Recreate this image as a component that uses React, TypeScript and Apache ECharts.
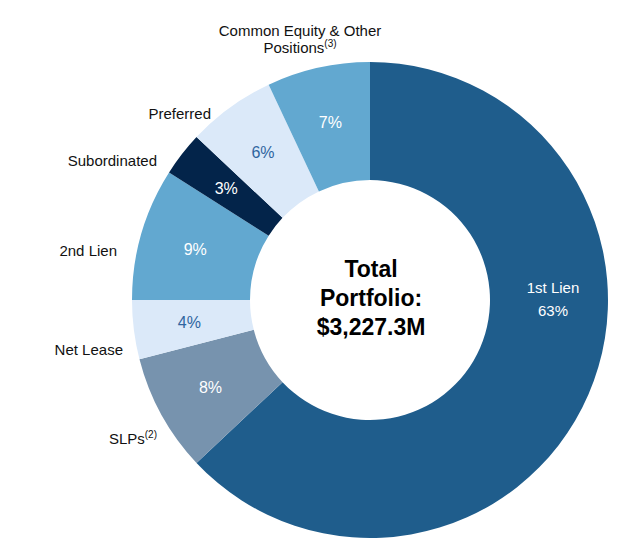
import React, { useEffect, useRef } from "react";
import * as echarts from "echarts";

const categories = ["1st Lien", "SLPs", "Net Lease", "2nd Lien", "Subordinated", "Preferred", "Common Equity & Other Positions"];
const shares = [63, 8, 4, 9, 3, 6, 7];
const sliceColors = ["#1f5d8c", "#7793ae", "#dbe9f9", "#62a8d0", "#03244a", "#dbe9f9", "#62a8d0"];
const labelColors = ["#ffffff", "#ffffff", "#2f65a0", "#ffffff", "#ffffff", "#2f65a0", "#ffffff"];
const centerLines = ["Total", "Portfolio:", "$3,227.3M"];

export default function App() {
  const ref = useRef<HTMLDivElement>(null);
  useEffect(() => {
    if (!ref.current) return;
    const chart = echarts.init(ref.current, null, { renderer: "svg" });
    const font = "'Liberation Sans', Arial, sans-serif";
    const data = categories.map((name, i) => {
      const item: any = {
        name,
        value: shares[i],
        itemStyle: { color: sliceColors[i] },
        label: { color: labelColors[i] },
      };
      if (i === 0) {
        item.label = {
          color: labelColors[i],
          formatter: "{b}\n{c}%",
          offset: [16, -73],
          lineHeight: 23,
          fontSize: 15,
        };
      }
      return item;
    });
    const outside = (x: number, y: number, text: string, align: string = "right") => ({
      type: "text",
      x,
      y,
      style: {
        text,
        fill: "#111",
        font: `15px ${font}`,
        fontFamily: font,
        fontSize: 15,
        align,
        verticalAlign: "middle",
        rich: {
          s: { fontSize: 10, fontFamily: font, fill: "#111", padding: [0, 0, 7, 0] },
          n: { fontSize: 15, fontFamily: font, fill: "#111" },
        },
      },
    });
    chart.setOption({
      animation: false,
      series: [
        {
          type: "pie",
          center: [370, 300],
          radius: [120, 238],
          startAngle: 90,
          clockwise: true,
          avoidLabelOverlap: false,
          label: {
            show: true,
            position: "inside",
            formatter: "{c}%",
            fontFamily: font,
            fontSize: 16,
          },
          labelLine: { show: false },
          emphasis: { disabled: true },
          itemStyle: { borderWidth: 0 },
          data,
        },
      ],
      graphic: [
        {
          type: "text",
          x: 371,
          y: 298,
          style: {
            text: centerLines.join("\n"),
            font: `bold 23px ${font}`,
            fontFamily: font,
            fontWeight: "bold",
            fontSize: 23,
            lineHeight: 29,
            fill: "#000",
            align: "center",
            verticalAlign: "middle",
          },
        },
        outside(300, 30, "Common Equity & Other", "center"),
        outside(300, 47, "{n|Positions}{s|(3)}", "center"),
        outside(211, 113, "Preferred"),
        outside(157, 160, "Subordinated"),
        outside(117, 250, "2nd Lien"),
        outside(123, 349, "Net Lease"),
        outside(157, 438, "{n|SLPs}{s|(2)}"),
      ],
    });
    return () => chart.dispose();
  }, []);
  return (
    <div
      ref={ref}
      style={{ position: "absolute", left: 0, top: 0, width: 631, height: 544, background: "#fff" }}
    />
  );
}
